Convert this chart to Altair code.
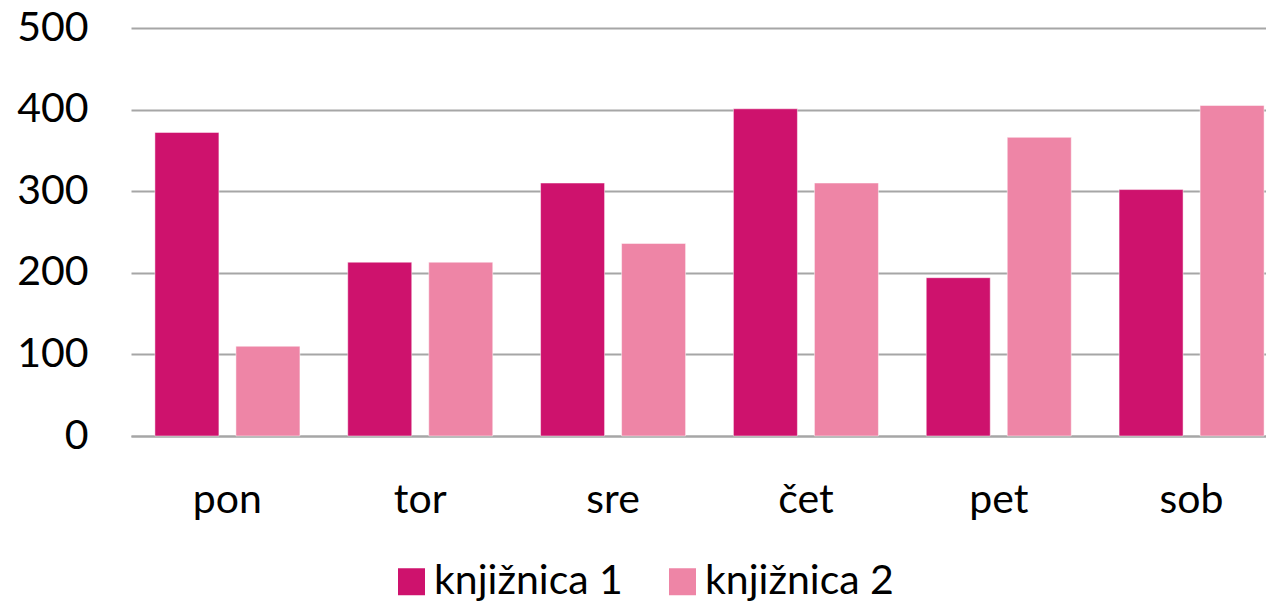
import altair as alt
import pandas as pd

days = ["pon", "tor", "sre", "čet", "pet", "sob"]
series = ["knjižnica 1", "knjižnica 2"]
k1 = [372, 213, 310, 401, 194, 302]
k2 = [110, 213, 236, 310, 366, 405]
colors = ["#CE126D", "#EE85A6"]

rows = []
for d, a, b in zip(days, k1, k2):
    rows.append({"dan": d, "serija": series[0], "vrednost": a})
    rows.append({"dan": d, "serija": series[1], "vrednost": b})
df = pd.DataFrame(rows)

FONT = "Lato"

chart = alt.Chart(df).mark_bar(stroke="white", strokeWidth=0.8, strokeOpacity=0.6).encode(
    x=alt.X("dan:N", sort=days, title=None,
            scale=alt.Scale(paddingInner=0.248, paddingOuter=0.124, range=[0, 1157]),
            axis=alt.Axis(labelAngle=0, labelFontSize=41, labelFont=FONT, labelColor="black",
                          labelPadding=44, ticks=False, domainColor="#a6a6a6", domainWidth=2)),
    xOffset=alt.XOffset("serija:N", sort=series,
                        scale=alt.Scale(paddingInner=0.21, paddingOuter=0)),
    y=alt.Y("vrednost:Q", title=None,
            scale=alt.Scale(domain=[0, 500]),
            axis=alt.Axis(values=[0, 100, 200, 300, 400, 500], labelFontSize=41, labelFont=FONT,
                          labelColor="black", labelPadding=43, ticks=False, domain=False,
                          gridColor="#a6a6a6", gridWidth=2)),
    color=alt.Color("serija:N", sort=series,
                    scale=alt.Scale(domain=series, range=colors),
                    legend=alt.Legend(title=None, orient="none", direction="horizontal",
                                      legendX=260, legendY=533, padding=0,
                                      symbolType="square", symbolSize=729, symbolStrokeWidth=0,
                                      labelFontSize=41, labelFont=FONT, labelColor="black",
                                      labelLimit=400, columnPadding=39, symbolOffset=0, labelOffset=2)),
).properties(
    width=1135, height=408,
    autosize=alt.AutoSizeParams(type="none"),
    padding={"left": 123, "top": 20, "right": 0, "bottom": 165},
).configure_view(stroke=None)

chart.save("out.html", embed_options={"renderer": "svg", "actions": False})
